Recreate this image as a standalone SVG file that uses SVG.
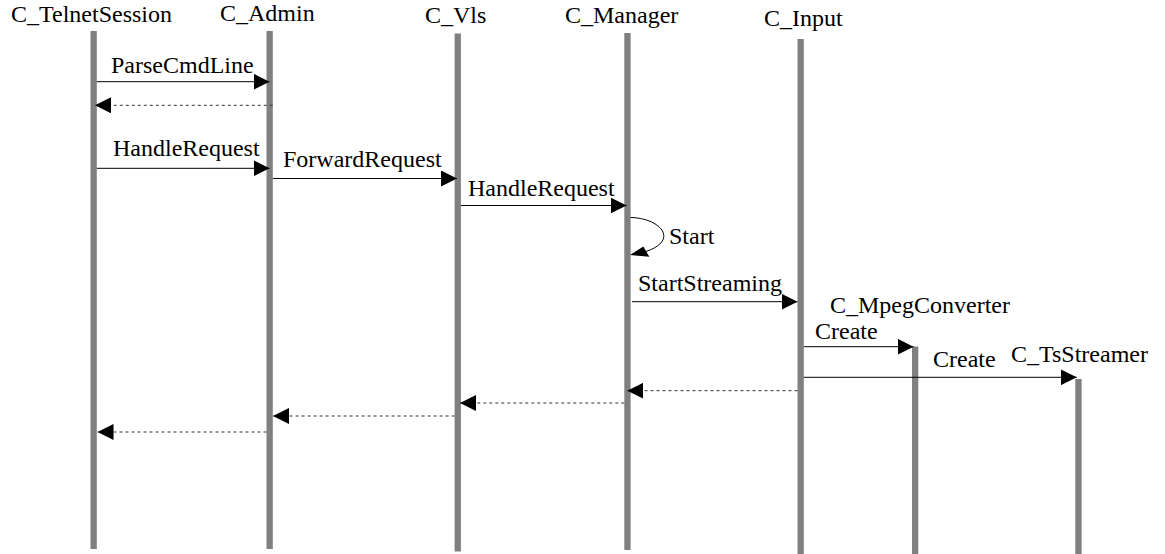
<svg xmlns="http://www.w3.org/2000/svg" width="1165" height="554" viewBox="0 0 1165 554">
  <style>
    .life { fill: #808080; }
    text { font-family: "Liberation Serif", serif; font-size: 24px; fill: #000; }
    .msg { stroke: #000; stroke-width: 1; fill: none; }
    .ret { stroke: #333; stroke-width: 1; stroke-dasharray: 3 3; fill: none; }
    .head { fill: #000; }
  </style>
  <defs>
    <marker id="arrow" markerUnits="userSpaceOnUse" markerWidth="16" markerHeight="16" refX="16" refY="8" orient="auto" viewBox="0 0 16 16">
      <path d="M0,0 L16,8 L0,16 Z" fill="#000"/>
    </marker>
  </defs>
  <rect width="1165" height="554" fill="#fff"/>

  <!-- objects: name plus lifeline -->
  <g id="telnet-session">
    <text x="11" y="22">C_TelnetSession</text>
    <rect class="life" x="90.5" y="31" width="6.3" height="518"/>
  </g>
  <g id="admin">
    <text x="220" y="21">C_Admin</text>
    <rect class="life" x="266.5" y="31" width="6.3" height="518"/>
  </g>
  <g id="vls">
    <text x="425" y="23">C_Vls</text>
    <rect class="life" x="454.6" y="33.5" width="6.3" height="518"/>
  </g>
  <g id="manager">
    <text x="565" y="23">C_Manager</text>
    <rect class="life" x="624.3" y="33" width="6.3" height="517"/>
  </g>
  <g id="input">
    <text x="764" y="26">C_Input</text>
    <rect class="life" x="797.5" y="39" width="6.3" height="515"/>
  </g>
  <g id="mpeg-converter">
    <text x="830" y="313">C_MpegConverter</text>
    <rect class="life" x="912" y="346.5" width="6.3" height="208"/>
  </g>
  <g id="ts-streamer">
    <text x="1011" y="362">C_TsStreamer</text>
    <rect class="life" x="1075.3" y="379" width="6.3" height="175"/>
  </g>

  <!-- messages -->
  <g id="connectors">
    <line class="msg" x1="96.8" y1="81.7" x2="269.5" y2="81.7" marker-end="url(#arrow)"/>
    <text x="111" y="72.7">ParseCmdLine</text>

    <line class="ret" x1="272.8" y1="105.3" x2="95" y2="105.3" marker-end="url(#arrow)"/>

    <line class="msg" x1="96.8" y1="168.3" x2="269.5" y2="168.3" marker-end="url(#arrow)"/>
    <text x="113" y="156">HandleRequest</text>

    <line class="msg" x1="272.8" y1="178.5" x2="457" y2="178.5" marker-end="url(#arrow)"/>
    <text x="283" y="166.7">ForwardRequest</text>

    <line class="msg" x1="460.9" y1="205.5" x2="626.5" y2="205.5" marker-end="url(#arrow)"/>
    <text x="468" y="196">HandleRequest</text>

    <!-- self call on C_Manager -->
    <path class="msg" d="M630.6,217.5 C660,218 680,240 646,251.5"/>
    <polygon class="head" points="630,255 643.3,246.5 649.3,256.7"/>
    <text x="669" y="244.3">Start</text>

    <line class="msg" x1="632" y1="301.7" x2="797.5" y2="301.7" marker-end="url(#arrow)"/>
    <text x="638" y="290.7">StartStreaming</text>

    <line class="msg" x1="803.8" y1="346.7" x2="913.5" y2="346.7" marker-end="url(#arrow)"/>
    <text x="815" y="339.3">Create</text>

    <line class="msg" x1="803.8" y1="377.3" x2="1076.7" y2="377.3" marker-end="url(#arrow)"/>
    <text x="933" y="366.7">Create</text>

    <!-- returns -->
    <line class="ret" x1="797.5" y1="390.7" x2="627.3" y2="390.7" marker-end="url(#arrow)"/>
    <line class="ret" x1="624.3" y1="403" x2="460" y2="403" marker-end="url(#arrow)"/>
    <line class="ret" x1="454.6" y1="416" x2="273" y2="416" marker-end="url(#arrow)"/>
    <line class="ret" x1="266.5" y1="432" x2="97.5" y2="432" marker-end="url(#arrow)"/>
  </g>
</svg>
